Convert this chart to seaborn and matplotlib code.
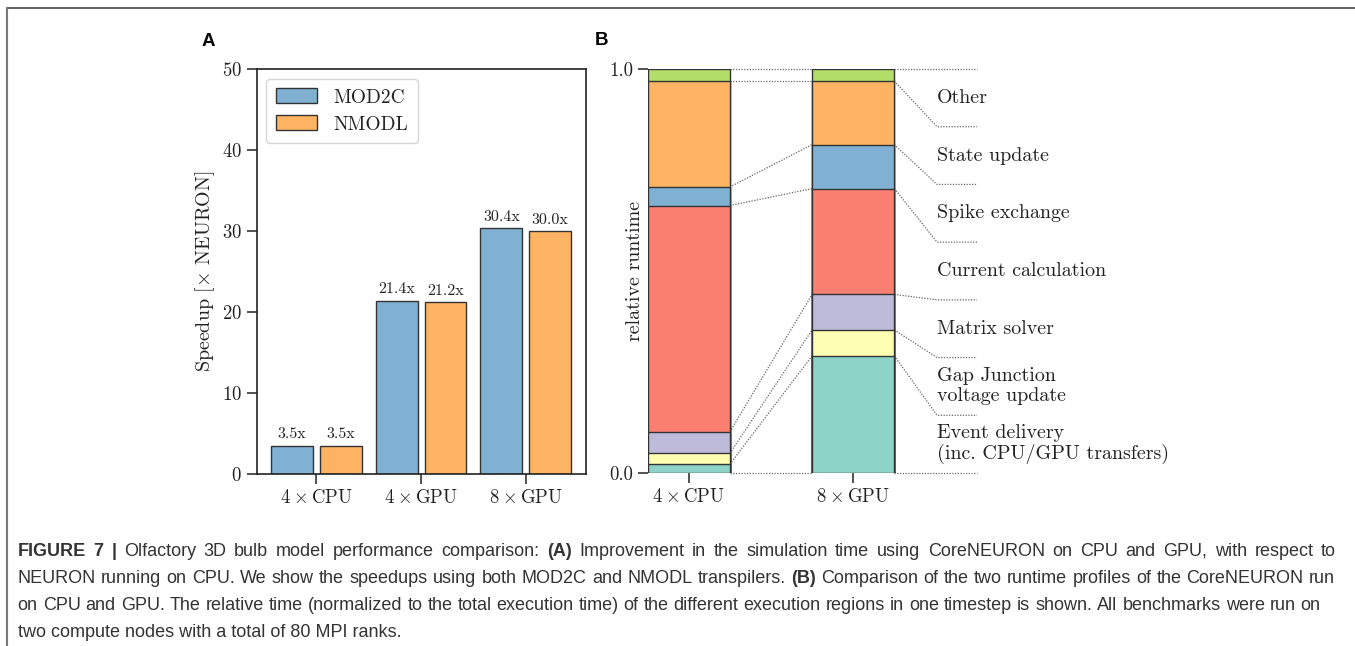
import numpy as np
import pandas as pd
import matplotlib
matplotlib.use("Agg")
import matplotlib.pyplot as plt
import seaborn as sns
from matplotlib.lines import Line2D

# ---------------- data ----------------
configs = ["4$\\:\\times\\:$CPU", "4$\\:\\times\\:$GPU", "8$\\:\\times\\:$GPU"]
transpilers = ["MOD2C", "NMODL"]
mod2c_speedup = [3.5, 21.4, 30.4]
nmodl_speedup = [3.5, 21.2, 30.0]

profile_configs = ["4$\\:\\times\\:$CPU", "8$\\:\\times\\:$GPU"]
regions = ["Event delivery\n(inc. CPU/GPU transfers)", "Gap Junction\nvoltage update",
           "Matrix solver", "Current calculation", "Spike exchange", "State update", "Other"]
cpu_profile = [0.022, 0.027, 0.053, 0.560, 0.046, 0.262, 0.030]
gpu_profile = [0.290, 0.064, 0.088, 0.262, 0.109, 0.157, 0.030]

speed_colors = ["#80b1d3", "#fdb462"]
region_colors = ["#8dd3c7", "#ffffb3", "#bebada", "#fb8072", "#80b1d3", "#fdb462", "#b3de69"]

caption_lines = [
    [("FIGURE 7 | ", "bold"), ("Olfactory 3D bulb model performance comparison: ", "normal"),
     ("(A)", "bold"), (" Improvement in the simulation time using CoreNEURON on CPU and GPU, with respect to", "normal")],
    [("NEURON running on CPU. We show the speedups using both MOD2C and NMODL transpilers. ", "normal"),
     ("(B)", "bold"), (" Comparison of the two runtime profiles of the CoreNEURON run", "normal")],
    [("on CPU and GPU. The relative time (normalized to the total execution time) of the different execution regions in one timestep is shown. All benchmarks were run on", "normal")],
    [("two compute nodes with a total of 80 MPI ranks.", "normal")],
]
caption_line_ends = [1336, 1335, 1320, None]

# ---------------- style ----------------
sns.set_theme(style="ticks")
plt.rcParams.update({
    "font.family": "serif",
    "font.serif": ["cmr10", "DejaVu Serif"],
    "mathtext.fontset": "cm",
    "axes.formatter.use_mathtext": True,
    "axes.unicode_minus": False,
    "axes.edgecolor": "#222222",
    "axes.linewidth": 1.2,
    "xtick.color": "#222222",
    "ytick.color": "#222222",
    "xtick.major.size": 7,
    "ytick.major.size": 7,
    "xtick.major.width": 1.1,
    "ytick.major.width": 1.1,
    "text.color": "#222222",
    "axes.labelcolor": "#222222",
})

W, H = 1355, 646
fig = plt.figure(figsize=(W / 100, H / 100), dpi=100)
EDGE = "#333333"
TICK_FS = 13.5
LAB_FS = 14.4

def ax_rect(l, r, t, b):
    return [l / W, 1 - b / H, (r - l) / W, (b - t) / H]

# ---------------- panel A ----------------
axA = fig.add_axes(ax_rect(256.7, 586, 69, 474))
df_a = pd.DataFrame({
    "config": configs * 2,
    "transpiler": [transpilers[0]] * 3 + [transpilers[1]] * 3,
    "speedup": mod2c_speedup + nmodl_speedup,
})
sns.barplot(data=df_a, x="config", y="speedup", hue="transpiler", palette=speed_colors,
            saturation=1, width=0.934, gap=0.143, edgecolor=EDGE, linewidth=1.0,
            errorbar=None, ax=axA)
for cont, vals in zip(axA.containers, [mod2c_speedup, nmodl_speedup]):
    axA.bar_label(cont, labels=[f"{v:.1f}x" for v in vals], padding=3, fontsize=11.5)
axA.set_ylim(0, 50)
axA.set_yticks([0, 10, 20, 30, 40, 50])
axA.set_xlim(-0.57, 2.575)
axA.set_xlabel("")
axA.set_ylabel("Speedup [$\\times$ NEURON]", fontsize=LAB_FS)
axA.yaxis.label.set_verticalalignment("center")
axA.yaxis.set_label_coords((205 - 256.7) / (586 - 256.7), 0.5)
axA.tick_params(labelsize=TICK_FS)
h, l = axA.get_legend_handles_labels()
for hh in h:
    hh.set_edgecolor(EDGE)
    hh.set_linewidth(1.0)
axA.legend(h, l, loc="upper left", fontsize=14, handlelength=2.1, handleheight=0.8,
           handletextpad=0.85, borderpad=0.5, labelspacing=0.45, frameon=True,
           fancybox=True, framealpha=0.8, edgecolor="#cccccc")

# ---------------- panel B ----------------
axB = fig.add_axes(ax_rect(647.7, 977, 69, 473))
cum_cpu = np.cumsum(cpu_profile)
cum_gpu = np.cumsum(gpu_profile)
for i in reversed(range(len(regions))):
    df_b = pd.DataFrame({"config": profile_configs, "share": [cum_cpu[i], cum_gpu[i]]})
    sns.barplot(data=df_b, x="config", y="share", color=region_colors[i], saturation=1,
                width=0.5, edgecolor=EDGE, linewidth=1.0, errorbar=None, ax=axB)

bcpu = np.concatenate([[0.0], cum_cpu])
bgpu = np.concatenate([[0.0], cum_gpu])
n = len(regions)
dot = dict(color="#666666", lw=0.9, ls=(0, (1, 1.2)), zorder=0.5, clip_on=False)
x_bend, x_end = 1.51, 1.753
for j in range(n + 1):
    axB.plot([0.25, 0.75], [bcpu[j], bgpu[j]], **dot)
    axB.plot([1.25, x_bend, x_end], [bgpu[j], j / n, j / n], **dot)
for j, name in enumerate(regions):
    axB.text(x_bend, (j + 0.5) / n, name, ha="left", va="center", fontsize=LAB_FS,
             linespacing=1.15, clip_on=False)

axB.set_xlim(-0.25, x_end)
axB.set_ylim(0, 1)
axB.set_yticks([0, 1])
axB.set_yticklabels(["0.0", "1.0"])
axB.set_xticks([0, 1])
axB.set_xticklabels(profile_configs)
axB.set_xlabel("")
axB.set_ylabel("relative runtime", fontsize=LAB_FS)
axB.yaxis.label.set_verticalalignment("center")
axB.yaxis.set_label_coords((635 - 647.7) / (977 - 647.7), 0.5)
axB.tick_params(labelsize=TICK_FS)
sns.despine(ax=axB, left=True, bottom=True)

# ---------------- panel letters ----------------
sans = ["Liberation Sans", "DejaVu Sans"]
fig.text(208 / W, 1 - 41.7 / H, "A", ha="center", va="center", fontsize=13.5,
         fontweight="bold", family=sans, color="black")
fig.text(601.5 / W, 1 - 40.5 / H, "B", ha="center", va="center", fontsize=13.5,
         fontweight="bold", family=sans, color="black")

# ---------------- frame ----------------
fig.add_artist(Line2D([7.5 / W, 1.0], [1 - 8 / H, 1 - 8 / H], transform=fig.transFigure,
                      color="#444444", lw=1.2))
fig.add_artist(Line2D([7.5 / W, 7.5 / W], [0.0, 1 - 8 / H], transform=fig.transFigure,
                      color="#777777", lw=1.5))

# ---------------- caption ----------------
renderer = fig.canvas.get_renderer()

def text_width(s, weight, size):
    t1 = fig.text(0, 0, "X" + s + "X", fontsize=size, fontweight=weight, family=sans)
    t2 = fig.text(0, 0, "XX", fontsize=size, fontweight=weight, family=sans)
    w = t1.get_window_extent(renderer).width - t2.get_window_extent(renderer).width
    t1.remove(); t2.remove()
    return w

base_size = 10.0
w_line2 = sum(text_width(s, wt, base_size) for s, wt in caption_lines[1])
cap_size = base_size * (1335 - 17.7) / w_line2

x_start = 17.7
baselines = [556, 583.3, 610, 636.7]
for pieces, yb, x_stop in zip(caption_lines, baselines, caption_line_ends):
    if x_stop is None:
        x = x_start
        for s, wt in pieces:
            fig.text(x / W, 1 - yb / H, s, fontsize=cap_size, fontweight=wt, family=sans,
                     ha="left", va="baseline", color="#333333")
            x += text_width(s, wt, cap_size)
        continue
    words = []
    for s, wt in pieces:
        for k, wd in enumerate(s.split(" ")):
            if k > 0:
                words.append((None, wt))
            if wd:
                words.append((wd, wt))
    natural = 0.0
    n_space = 0
    for wd, wt in words:
        if wd is None:
            natural += text_width(" ", wt, cap_size)
            n_space += 1
        else:
            natural += text_width(wd, wt, cap_size)
    extra = 0.0
    if n_space > 0:
        extra = max(0.0, (x_stop - x_start - natural) / n_space)
    x = x_start
    for wd, wt in words:
        if wd is None:
            x += text_width(" ", wt, cap_size) + extra
        else:
            fig.text(x / W, 1 - yb / H, wd, fontsize=cap_size, fontweight=wt, family=sans,
                     ha="left", va="baseline", color="#333333")
            x += text_width(wd, wt, cap_size)

fig.savefig("out.png", dpi=100)
